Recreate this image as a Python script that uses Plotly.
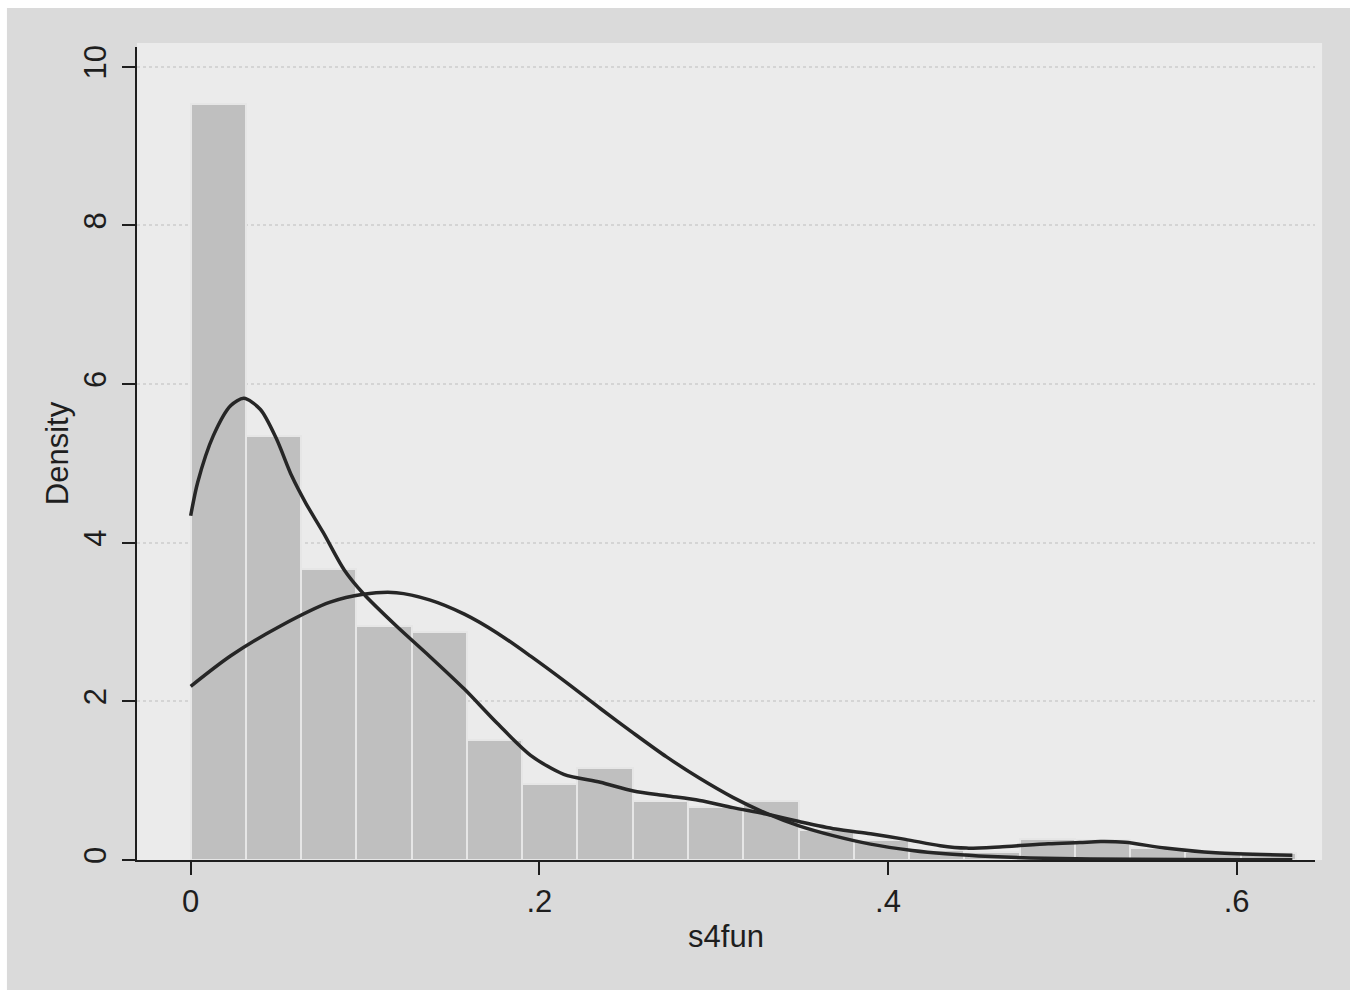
import numpy as np
import plotly.graph_objects as go

# ---- data ----
bin_start = 0.0
bin_width = 0.0317
bar_heights = [9.53, 5.34, 3.67, 2.955, 2.88, 1.51, 0.955, 1.165, 0.745, 0.67,
               0.745, 0.38, 0.25, 0.12, 0.10, 0.26, 0.25, 0.15, 0.10, 0.09]

kernel_x = [0.0, 0.004, 0.013, 0.023, 0.0305, 0.040, 0.049, 0.058, 0.066, 0.076,
            0.088, 0.099, 0.118, 0.137, 0.157, 0.176, 0.195, 0.214, 0.235, 0.254,
            0.273, 0.292, 0.311, 0.330, 0.350, 0.370, 0.390, 0.410, 0.430, 0.445,
            0.464, 0.492, 0.510, 0.522, 0.536, 0.559, 0.588, 0.632]
kernel_y = [4.34, 4.76, 5.35, 5.73, 5.82, 5.68, 5.32, 4.84, 4.50, 4.13,
            3.66, 3.36, 2.95, 2.57, 2.155, 1.72, 1.32, 1.08, 0.98, 0.87,
            0.81, 0.75, 0.66, 0.58, 0.48, 0.39, 0.33, 0.26, 0.18, 0.15,
            0.165, 0.205, 0.22, 0.232, 0.223, 0.15, 0.09, 0.06]

normal_x = [0.0, 0.023, 0.0515, 0.080, 0.099, 0.118, 0.137, 0.157, 0.176, 0.195,
            0.216, 0.235, 0.254, 0.273, 0.292, 0.311, 0.330, 0.349, 0.368, 0.390,
            0.414, 0.433, 0.452, 0.490, 0.540, 0.600, 0.632]
normal_y = [2.19, 2.575, 2.95, 3.25, 3.35, 3.37, 3.28, 3.10, 2.86, 2.57,
            2.23, 1.91, 1.60, 1.30, 1.03, 0.79, 0.59, 0.43, 0.31, 0.20,
            0.12, 0.078, 0.052, 0.022, 0.008, 0.003, 0.002]

x_tickvals = [0, 0.2, 0.4, 0.6]
x_ticktext = ["0", ".2", ".4", ".6"]
y_tickvals = [0, 2, 4, 6, 8, 10]
y_ticktext = ["0", "2", "4", "6", "8", "10"]

# ---- figure ----
bin_centers = bin_start + bin_width * (np.arange(len(bar_heights)) + 0.5)

FONT = "Liberation Sans, Arial, sans-serif"
TXT = "#1e1e1e"

fig = go.Figure()
fig.add_trace(go.Bar(
    x=bin_centers, y=bar_heights, width=bin_width,
    marker=dict(color="#bfbfbf", line=dict(color="#e6e6e6", width=2)),
    showlegend=False, hoverinfo="skip",
))
fig.add_trace(go.Scatter(
    x=kernel_x, y=kernel_y, mode="lines",
    line=dict(color="#262626", width=3.5, shape="spline", smoothing=0.8),
    showlegend=False,
))
fig.add_trace(go.Scatter(
    x=normal_x, y=normal_y, mode="lines",
    line=dict(color="#262626", width=3.5, shape="spline", smoothing=0.8),
    showlegend=False,
))

shapes = [
    # outer gray frame
    dict(type="rect", xref="paper", yref="paper", x0=-0.1104, x1=1.0297,
         y0=-0.1599, y1=1.048, fillcolor="#dadada", line=dict(width=0), layer="below"),
    # light plot region
    dict(type="rect", xref="paper", yref="paper", x0=0, x1=1.006,
         y0=0, y1=1.005, fillcolor="#ebebeb", line=dict(width=0), layer="below"),
]

fig.update_layout(
    width=1357, height=993,
    margin=dict(l=137, r=42, t=47, b=133),
    paper_bgcolor="white",
    plot_bgcolor="rgba(0,0,0,0)",
    font=dict(family=FONT, size=31, color=TXT),
    bargap=0,
    shapes=shapes,
    xaxis=dict(
        range=[-0.0308, 0.645],
        tickvals=x_tickvals, ticktext=x_ticktext,
        ticks="outside", ticklen=13, tickwidth=2, tickcolor="#1e1e1e",
        showline=True, linecolor="#1e1e1e", linewidth=2,
        showgrid=False, zeroline=False,
        title=dict(text="s4fun", standoff=7, font=dict(size=31)),
        tickfont=dict(size=31),
    ),
    yaxis=dict(
        range=[0, 10.25],
        tickvals=y_tickvals, ticktext=y_ticktext, tickangle=-90,
        ticks="outside", ticklen=13, tickwidth=2, tickcolor="#1e1e1e",
        showline=True, linecolor="#1e1e1e", linewidth=2,
        showgrid=True, gridcolor="#d4d4d4", gridwidth=1.5, griddash="dot",
        zeroline=False, ticklabelstandoff=4,
        title=dict(text="Density", standoff=0, font=dict(size=31)),
        tickfont=dict(size=31),
    ),
)

fig.write_html("out.html")
